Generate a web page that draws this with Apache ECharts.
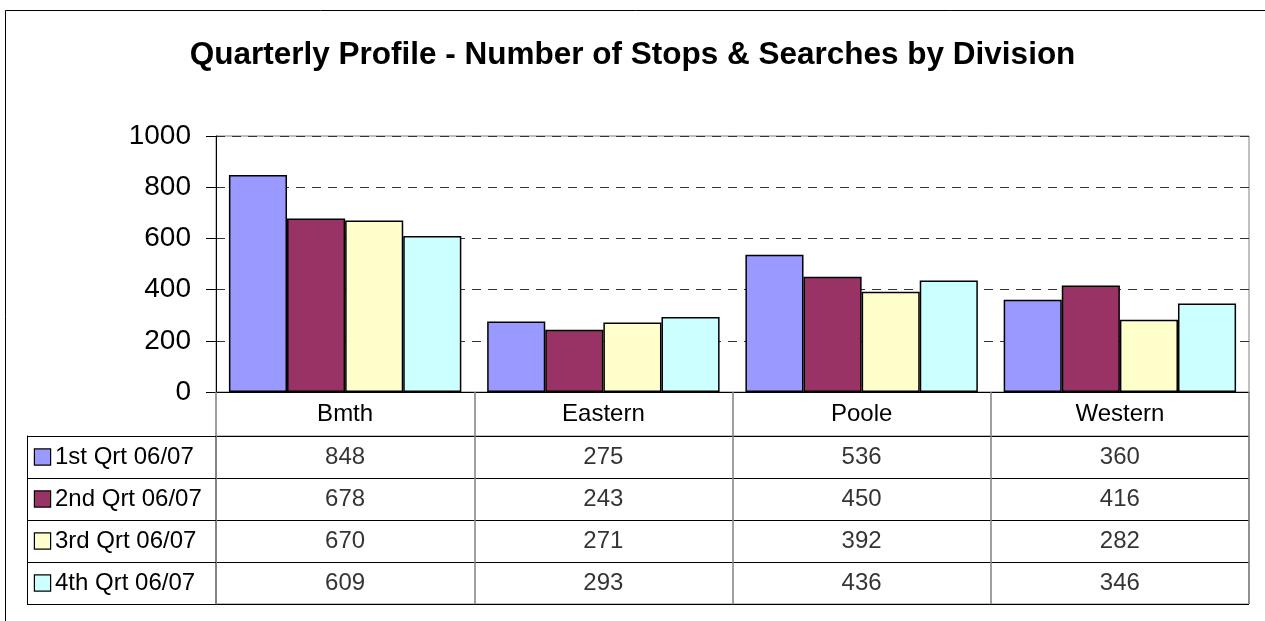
<!DOCTYPE html>
<html>
<head>
<meta charset="utf-8">
<title>Quarterly Profile</title>
<script src="https://cdn.jsdelivr.net/npm/echarts@6/dist/echarts.min.js"></script>
<style>
  html, body { margin: 0; padding: 0; background: #fff; }
  #chart { width: 1265px; height: 621px; }
</style>
</head>
<body>
<div id="chart"></div>
<script>
// data
const divisions = ['Bmth', 'Eastern', 'Poole', 'Western'];
const quarters = ['1st Qrt 06/07', '2nd Qrt 06/07', '3rd Qrt 06/07', '4th Qrt 06/07'];
const q1 = [848, 275, 536, 360];
const q2 = [678, 243, 450, 416];
const q3 = [670, 271, 392, 282];
const q4 = [609, 293, 436, 346];
const yTicks = [0, 200, 400, 600, 800, 1000];

const seriesValues = [q1, q2, q3, q4];
const colors = ['#9999FF', '#993366', '#FFFFCC', '#CCFFFF'];
const font = 'Arial, "Liberation Sans", sans-serif';

const chartDom = document.getElementById('chart');
const myChart = echarts.init(chartDom);

// legend keys for the table rows
const rich = {};
colors.forEach((c, i) => {
  rich['k' + i] = {
    width: 15, height: 15, backgroundColor: c,
    borderColor: '#000', borderWidth: 1.2
  };
});
rich.t = { fontFamily: font, fontSize: 24, color: '#000', padding: [0, 0, 0, 5] };

const bars = quarters.map((name, i) => ({
  name: name,
  type: 'bar',
  xAxisIndex: 0,
  yAxisIndex: 0,
  data: seriesValues[i],
  barGap: '0%',
  barCategoryGap: '10%',
  itemStyle: { color: colors[i], borderColor: '#000', borderWidth: 1.5 }
}));

// cell text of the data table
const cells = [];
quarters.forEach((q, i) => {
  divisions.forEach((d, j) => cells.push([d, q, seriesValues[i][j]]));
});

const option = {
  animation: false,
  backgroundColor: '#fff',
  title: {
    text: 'Quarterly Profile - Number of Stops & Searches by Division',
    left: 'center',
    top: 34,
    textStyle: { fontFamily: font, fontSize: 31.5, fontWeight: 'bold', color: '#000' }
  },
  graphic: [{
    type: 'rect',
    shape: { x: 5.5, y: 10.5, width: 1300, height: 700 },
    style: { fill: 'none', stroke: '#000', lineWidth: 1 },
    silent: true
  }],
  grid: [
    { left: 216, right: 16, top: 136, height: 256, show: true, borderColor: '#808080', borderWidth: 1, backgroundColor: 'transparent' },
    { left: 216, right: 16, top: 436, height: 168, show: true, borderColor: '#808080', borderWidth: 1, backgroundColor: 'transparent' }
  ],
  xAxis: [
    {
      gridIndex: 0,
      type: 'category',
      data: divisions,
      axisLine: { lineStyle: { color: '#000', width: 1 } },
      axisTick: { show: true, inside: false, length: 44, lineStyle: { color: '#808080', width: 1.5 } },
      axisLabel: { fontFamily: font, fontSize: 24, color: '#000', margin: 10 },
      splitLine: { show: false }
    },
    {
      gridIndex: 1,
      type: 'category',
      data: divisions,
      axisLine: { show: false },
      axisTick: { show: false },
      axisLabel: { show: false },
      splitLine: { show: true, lineStyle: { color: '#808080', width: 1.5 } }
    }
  ],
  yAxis: [
    {
      gridIndex: 0,
      type: 'value',
      min: yTicks[0],
      max: yTicks[yTicks.length - 1],
      interval: yTicks[1] - yTicks[0],
      axisLine: { show: true, lineStyle: { color: '#000', width: 1 } },
      axisTick: { show: true, length: 10, lineStyle: { color: '#000' } },
      axisLabel: { fontFamily: font, fontSize: 28, color: '#000', margin: 25, formatter: (v) => String(v) },
      splitLine: { show: true, lineStyle: { color: '#333', type: [9, 7], width: 1 } }
    },
    {
      gridIndex: 1,
      type: 'category',
      data: quarters,
      inverse: true,
      axisLine: { show: true, lineStyle: { color: '#808080', width: 1.5 } },
      axisTick: { show: true, length: 189, lineStyle: { color: '#000', width: 1 } },
      axisLabel: {
        align: 'left',
        margin: 181,
        formatter: (v, i) => '{k' + i + '|}{t|' + v + '}',
        rich: rich
      },
      splitLine: { show: true, lineStyle: { color: '#000', width: 1 } }
    },
    {
      gridIndex: 1,
      type: 'category',
      data: quarters,
      position: 'left',
      offset: 189,
      axisLine: { show: true, lineStyle: { color: '#000', width: 1 } },
      axisTick: { show: false },
      axisLabel: { show: false },
      splitLine: { show: false }
    }
  ],
  series: bars.concat([{
    type: 'scatter',
    xAxisIndex: 1,
    yAxisIndex: 1,
    symbolSize: 0,
    data: cells,
    label: {
      show: true,
      position: 'inside',
      fontFamily: font,
      fontSize: 24,
      color: '#000',
      formatter: (p) => String(p.value[2])
    },
    silent: true
  }])
};

option && myChart.setOption(option);
</script>
</body>
</html>
